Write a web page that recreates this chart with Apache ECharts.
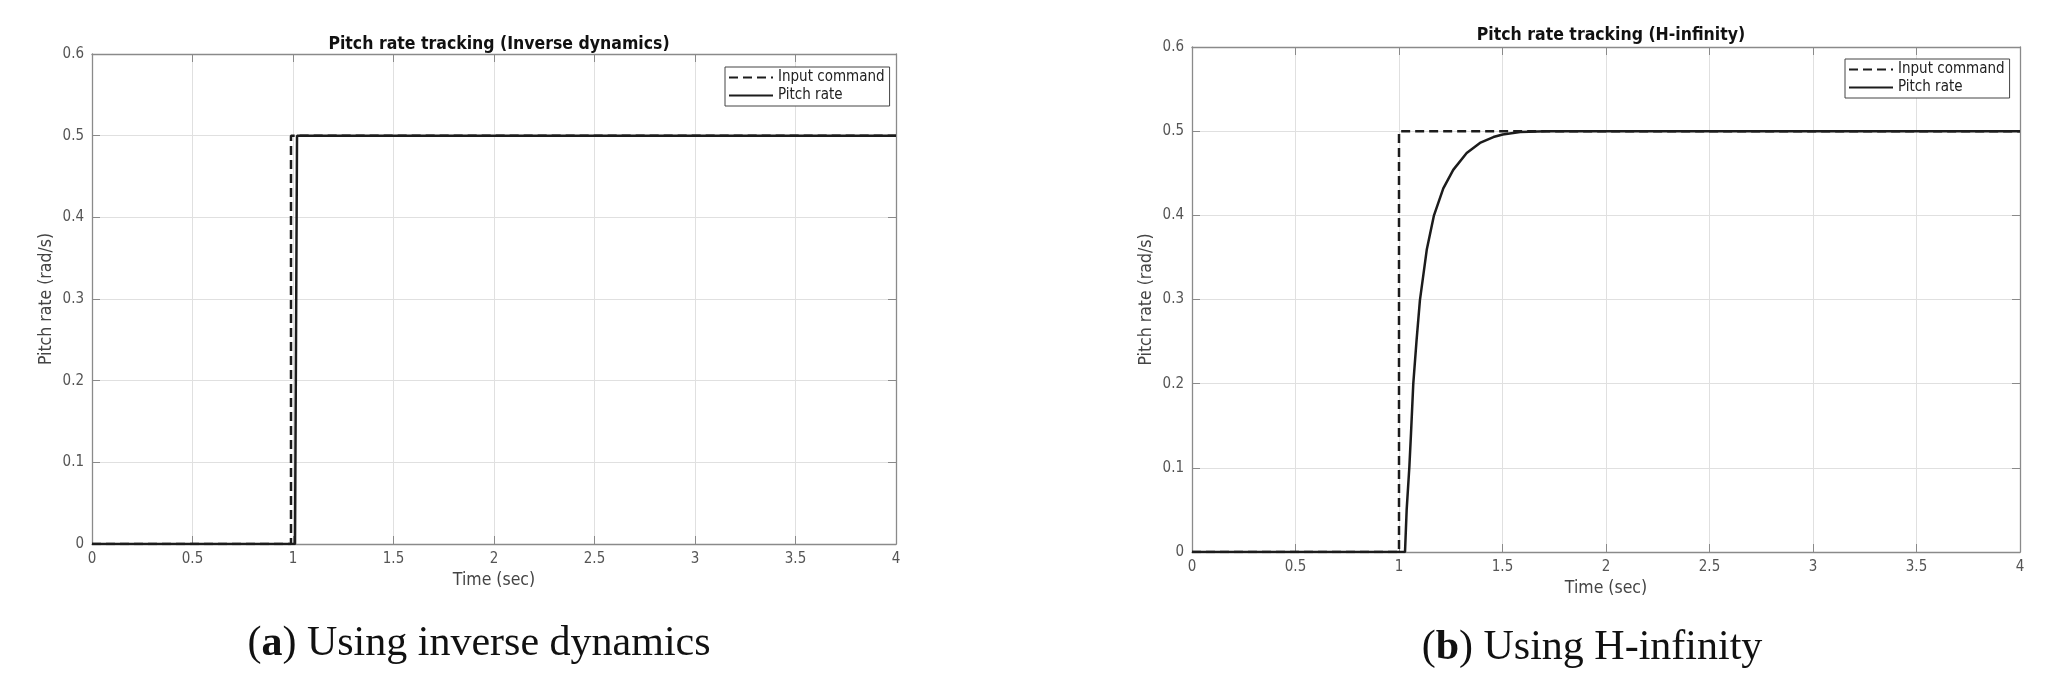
<!DOCTYPE html>
<html>
<head>
<meta charset="utf-8">
<script src="https://cdn.jsdelivr.net/npm/echarts@6/dist/echarts.min.js"></script>
<style>
html,body{margin:0;padding:0;background:#fff;}
#c{width:2054px;height:692px;}
</style>
</head>
<body>
<div id="c"></div>
<script>
// ---- data ----
var xTicks = [0, 0.5, 1, 1.5, 2, 2.5, 3, 3.5, 4];
var yTicks = [0, 0.1, 0.2, 0.3, 0.4, 0.5, 0.6];

// (a) inverse dynamics: [time, value]
var invCommand = [[0, 0], [0.99, 0], [0.99, 0.5], [4, 0.5]];
var invPitch   = [[0, 0], [1.01, 0], [1.02, 0.5], [4, 0.5]];

// (b) H-infinity
var hinfCommand = [[0, 0], [1.0, 0], [1.0, 0.5], [4, 0.5]];
var hinfTime  = [0, 1.029, 1.037, 1.050, 1.058, 1.069, 1.085, 1.101, 1.134, 1.169, 1.214, 1.262, 1.327, 1.391, 1.456, 1.501, 1.585, 1.714, 4];
var hinfPitch = [0, 0, 0.050, 0.101, 0.141, 0.200, 0.252, 0.299, 0.359, 0.400, 0.432, 0.454, 0.474, 0.486, 0.493, 0.496, 0.499, 0.500, 0.500];

var titles = ['Pitch rate tracking (Inverse dynamics)', 'Pitch rate tracking (H-infinity)'];
var captionsLetter = ['a', 'b'];
var captionsText = [' Using inverse dynamics', ' Using H-infinity'];
var seriesNames = ['Input command', 'Pitch rate'];
var xName = 'Time (sec)';
var yName = 'Pitch rate (rad/s)';

// ---- chart ----
var FONT = '"DejaVu Sans Condensed", "DejaVu Sans", sans-serif';
var SERIF = '"Liberation Serif", "DejaVu Serif", serif';
var AX = '#8a8a8a';
var LINE = '#1c1c1c';

var hinfData = hinfTime.map(function (t, i) { return [t, hinfPitch[i]]; });

function xAx(g, top) {
  var o = {
    gridIndex: g, type: 'value', min: xTicks[0], max: xTicks[xTicks.length - 1], interval: 0.5,
    position: top ? 'top' : 'bottom',
    axisLine: {show: true, onZero: false, lineStyle: {color: AX, width: 1.3}},
    axisTick: {show: true, inside: true, length: 8, lineStyle: {color: AX, width: 1}},
    axisLabel: {show: !top, color: '#555', fontSize: 15, margin: 8, fontFamily: FONT},
    splitLine: {show: !top, lineStyle: {color: '#e0e0e0', width: 1}}
  };
  if (!top) {
    o.name = xName; o.nameLocation = 'middle'; o.nameGap = 27;
    o.nameTextStyle = {color: '#444', fontSize: 17.5, fontFamily: FONT};
  }
  return o;
}
function yAx(g, right) {
  var o = {
    gridIndex: g, type: 'value', min: yTicks[0], max: yTicks[yTicks.length - 1], interval: 0.1,
    position: right ? 'right' : 'left',
    axisLine: {show: true, onZero: false, lineStyle: {color: AX, width: 1.3}},
    axisTick: {show: true, inside: true, length: 8, lineStyle: {color: AX, width: 1}},
    axisLabel: {show: !right, color: '#555', fontSize: 15, margin: 8, fontFamily: FONT},
    splitLine: {show: !right, lineStyle: {color: '#e0e0e0', width: 1}}
  };
  if (!right) {
    o.name = yName; o.nameLocation = 'middle'; o.nameGap = 37;
    o.nameTextStyle = {color: '#444', fontSize: 17.5, fontFamily: FONT};
  }
  return o;
}

function lineSeries(name, data, xi, yi, dashed) {
  return {
    name: name, type: 'line', data: data, xAxisIndex: xi, yAxisIndex: yi,
    symbol: 'none', smooth: false, animation: false,
    lineStyle: {color: LINE, width: 2.5, type: dashed ? [9, 5] : 'solid'},
    itemStyle: {color: LINE},
    z: dashed ? 2 : 3
  };
}

function legendAt(left, top) {
  return {
    orient: 'vertical', left: left, top: top, itemWidth: 44, itemHeight: 14, itemGap: 3,
    padding: [3, 5, 3, 3], borderColor: '#444', borderWidth: 1, backgroundColor: '#fff',
    itemStyle: {opacity: 0, borderWidth: 0},
    textStyle: {color: '#222', fontSize: 15, fontFamily: FONT},
    data: seriesNames.map(function (n) { return {name: n}; })
  };
}

var capStyle = {fontFamily: SERIF, fontSize: 42, fontWeight: 'normal', color: '#111',
  rich: {b: {fontFamily: SERIF, fontSize: 42, fontWeight: 'bold', color: '#111'}}};
var titleStyle = {fontFamily: FONT, fontSize: 17.5, fontWeight: 'bold', color: '#111'};

var chart = echarts.init(document.getElementById('c'), null, {renderer: 'canvas'});
chart.setOption({
  backgroundColor: '#fff',
  animation: false,
  title: [
    {text: titles[0], left: 494, top: 30, textAlign: 'center', textStyle: titleStyle},
    {text: titles[1], left: 1606, top: 21, textAlign: 'center', textStyle: titleStyle},
    {text: '({b|' + captionsLetter[0] + '})' + captionsText[0], left: 474, top: 618, textAlign: 'center', textStyle: capStyle},
    {text: '({b|' + captionsLetter[1] + '})' + captionsText[1], left: 1587, top: 622, textAlign: 'center', textStyle: capStyle}
  ],
  legend: [legendAt(725, 67), legendAt(1845, 59)],
  grid: [
    {left: 92, top: 54, width: 804, height: 490, containLabel: false},
    {left: 1192, top: 47, width: 828, height: 505, containLabel: false}
  ],
  xAxis: [xAx(0, false), xAx(0, true), xAx(1, false), xAx(1, true)],
  yAxis: [yAx(0, false), yAx(0, true), yAx(1, false), yAx(1, true)],
  series: [
    lineSeries(seriesNames[0], invCommand, 0, 0, true),
    lineSeries(seriesNames[1], invPitch, 0, 0, false),
    lineSeries(seriesNames[0], hinfCommand, 2, 2, true),
    lineSeries(seriesNames[1], hinfData, 2, 2, false)
  ]
});
</script>
</body>
</html>
